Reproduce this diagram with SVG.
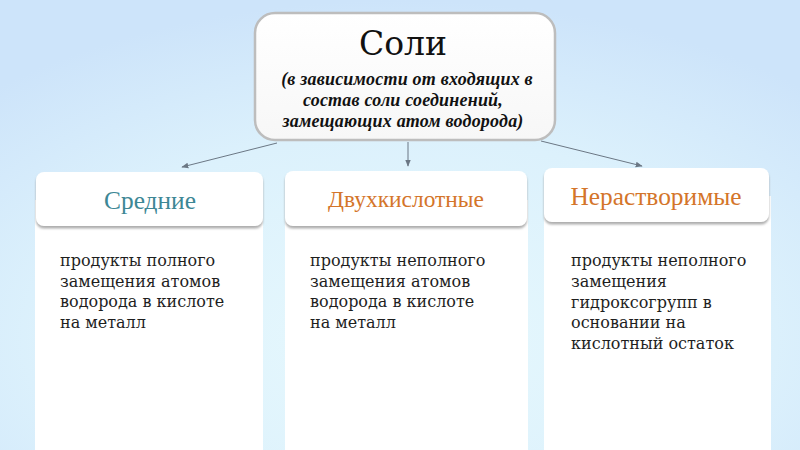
<svg xmlns="http://www.w3.org/2000/svg" width="800" height="450" viewBox="0 0 800 450">
  <defs>
    <radialGradient id="bg" cx="50%" cy="75%" r="75%">
      <stop offset="0" stop-color="#e6f8fd"/>
      <stop offset="0.6" stop-color="#dcf1fc"/>
      <stop offset="1" stop-color="#cde4fa"/>
    </radialGradient>
    <linearGradient id="topfill" x1="0" y1="0" x2="0" y2="1">
      <stop offset="0" stop-color="#ffffff"/>
      <stop offset="1" stop-color="#f7f7f7"/>
    </linearGradient>
    <filter id="shadow" x="-5%" y="-10%" width="110%" height="130%">
      <feDropShadow dx="0" dy="2.5" stdDeviation="1.2" flood-color="#9a9a9a" flood-opacity="0.8"/>
    </filter>
    <marker id="arrow" viewBox="0 0 10 10" refX="9" refY="5" markerWidth="7" markerHeight="7" orient="auto" markerUnits="userSpaceOnUse">
      <path d="M0,1 L10,5 L0,9 z" fill="#6b7784"/>
    </marker>
  </defs>
  <style>
    .col { fill: #ffffff; }
    .hdr { fill: #ffffff; filter: url(#shadow); }
    .body { font-family: "DejaVu Serif", "Liberation Serif", serif; font-size: 16px; fill: #1e1e1e; }
    .title { font-family: "DejaVu Serif", "Liberation Serif", serif; text-anchor: middle; }
    .head { font-family: "Liberation Serif", "DejaVu Serif", serif; text-anchor: middle; }
    .sub { font-family: "Liberation Serif", "DejaVu Serif", serif; font-style: italic; font-weight: bold; font-size: 18px; letter-spacing: 0.2px; fill: #111111; text-anchor: middle; }
    .conn { stroke: #6b7784; stroke-width: 1; fill: none; marker-end: url(#arrow); }
  </style>
  <rect width="800" height="450" fill="url(#bg)"/>

  <g id="connectors">
    <line class="conn" x1="277" y1="143" x2="182" y2="167"/>
    <line class="conn" x1="408" y1="142" x2="408" y2="166"/>
    <line class="conn" x1="541" y1="141" x2="642" y2="166"/>
  </g>

  <g id="node-soli">
    <rect x="255" y="13" width="300" height="127" rx="20" ry="20" fill="url(#topfill)" stroke="#bdbdbd" stroke-width="2.5"/>
    <text class="title" x="403" y="55" font-size="33" fill="#111111">Соли</text>
    <text class="sub" x="407" y="85">(в зависимости от входящих в</text>
    <text class="sub" x="403" y="106">состав соли соединений,</text>
    <text class="sub" x="403" y="127">замещающих атом водорода)</text>
  </g>

  <g id="node-srednie">
    <rect class="col" x="35" y="200" width="228" height="250"/>
    <rect class="hdr" x="36" y="172" width="227" height="54" rx="8" ry="8"/>
    <text class="head" x="150" y="209" font-size="25.4" fill="#3d8795">Средние</text>
    <text class="body" x="60" y="266">продукты полного</text>
    <text class="body" x="60" y="287">замещения атомов</text>
    <text class="body" x="60" y="307">водорода в кислоте</text>
    <text class="body" x="60" y="328">на металл</text>
  </g>

  <g id="node-dvukh">
    <rect class="col" x="285" y="200" width="243" height="250"/>
    <rect class="hdr" x="285" y="171" width="242" height="55" rx="8" ry="8"/>
    <text class="head" x="406" y="207" font-size="23.4" fill="#d4752a">Двухкислотные</text>
    <text class="body" x="310" y="266">продукты неполного</text>
    <text class="body" x="310" y="287">замещения атомов</text>
    <text class="body" x="310" y="307">водорода в кислоте</text>
    <text class="body" x="310" y="328">на металл</text>
  </g>

  <g id="node-nerastv">
    <rect class="col" x="544" y="196" width="227" height="254"/>
    <rect class="hdr" x="544" y="168" width="225" height="54" rx="8" ry="8"/>
    <text class="head" x="656" y="205" font-size="25.4" fill="#d4752a">Нерастворимые</text>
    <text class="body" x="571" y="266">продукты неполного</text>
    <text class="body" x="571" y="287">замещения</text>
    <text class="body" x="571" y="308">гидроксогрупп в</text>
    <text class="body" x="571" y="328">основании на</text>
    <text class="body" x="571" y="349">кислотный остаток</text>
  </g>
</svg>
